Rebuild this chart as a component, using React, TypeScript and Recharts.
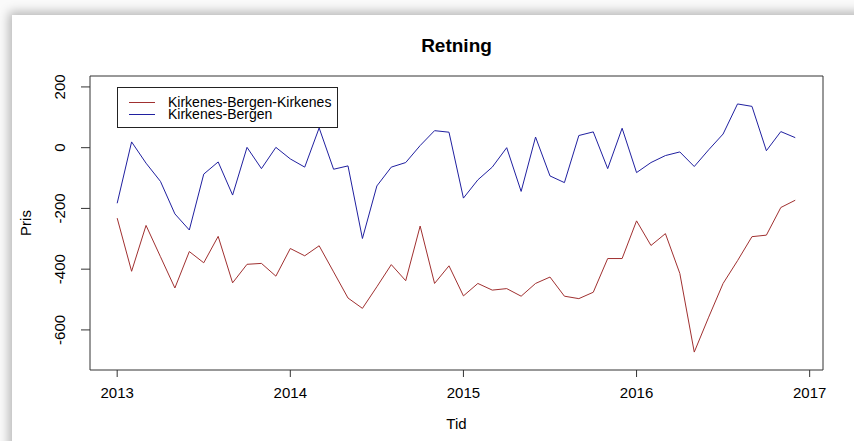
import { LineChart, Line, XAxis, YAxis, ReferenceArea, Legend, Label } from 'recharts'

const font = '"Liberation Sans", Arial, sans-serif'

// monthly series, jan 2013 - dec 2016
const startYear = 2013
const kirkenesBergenKirkenes = [
  -232, -407, -256, -359, -462, -342, -379, -292, -445, -384, -381, -423,
  -332, -356, -323, -409, -495, -529, -458, -385, -438, -258, -447, -389,
  -488, -447, -469, -464, -489, -447, -426, -489, -497, -476, -365, -365,
  -241, -322, -283, -414, -673, -558, -447, -372, -293, -288, -197, -173,
]
const kirkenesBergen = [
  -183, 19, -51, -111, -218, -271, -87, -47, -156, 1, -69, 1,
  -37, -64, 65, -71, -60, -299, -126, -64, -49, 7, 56, 51,
  -166, -106, -64, 0, -144, 35, -93, -115, 40, 52, -69, 64,
  -82, -49, -26, -14, -62, -7, 45, 144, 136, -10, 53, 33,
]
const seriesNames = ['Kirkenes-Bergen-Kirkenes', 'Kirkenes-Bergen']
const xTicks = [2013, 2014, 2015, 2016, 2017]
const yTicks = [-600, -400, -200, 0, 200]

const xDomain: [number, number] = [2012.843, 2017.077]
const yDomain: [number, number] = [-732, 236]

const data = kirkenesBergenKirkenes.map((v, i) => ({
  t: startYear + i / 12,
  kbk: v,
  kb: kirkenesBergen[i],
}))

const YTick = (props: any) => {
  const { x, y, payload } = props
  return (
    <text
      x={x}
      y={y}
      transform={`rotate(-90, ${x}, ${y})`}
      textAnchor="middle"
      fontSize={15}
      fontFamily={font}
      fill="#000"
    >
      {payload.value}
    </text>
  )
}

const PrisLabel = (p: any) => {
  const vb = p.viewBox
  const x = vb.x + 0.5
  const y = vb.y + vb.height / 2
  return (
    <text x={x} y={y} transform={`rotate(-90, ${x}, ${y})`} textAnchor="middle" fontSize={15} fontFamily={font} fill="#000">
      Pris
    </text>
  )
}

const TidLabel = (p: any) => {
  const vb = p.viewBox
  return (
    <text x={vb.x + vb.width / 2} y={vb.y + 58.5} textAnchor="middle" fontSize={15} fontFamily={font} fill="#000">
      Tid
    </text>
  )
}

// recharts sorts legend items, keep the plotting order instead
const renderLegend = (props: any) => {
  const items = seriesNames
    .map((n) => props.payload.find((e: any) => e.value === n))
    .filter(Boolean)
  return (
    <div
      style={{
        border: '1px solid #222',
        width: 221,
        height: 41,
        boxSizing: 'border-box',
        background: '#fff',
        paddingTop: 8,
        fontFamily: font,
        fontSize: 14,
        color: '#000',
      }}
    >
      {items.map((e: any) => (
        <div key={e.value} style={{ display: 'flex', alignItems: 'center', height: 12 }}>
          <div style={{ width: 26, height: 1, background: e.color, marginLeft: 11, marginRight: 13 }} />
          <span style={{ lineHeight: '12px', whiteSpace: 'nowrap' }}>{e.value}</span>
        </div>
      ))}
    </div>
  )
}

export default function App() {
  return (
    <div style={{ position: 'fixed', left: 0, top: 0, width: 854, height: 441, overflow: 'hidden', background: '#fafafa' }}>
      <div
        style={{
          position: 'absolute',
          left: 12,
          top: 15,
          width: 900,
          height: 500,
          background: '#fff',
          boxShadow: '-3px -3px 10px rgba(0,0,0,0.28)',
        }}
      />
      <div
        style={{
          position: 'absolute',
          left: 90,
          top: 35,
          width: 733,
          textAlign: 'center',
          fontFamily: font,
          fontWeight: 'bold',
          fontSize: 19,
          lineHeight: '22px',
          color: '#000',
        }}
      >
        Retning
      </div>
      <div style={{ position: 'absolute', left: 0, top: 0 }}>
        <LineChart width={854} height={441} data={data} margin={{ top: 76, right: 31, bottom: 0, left: 30 }}>
          <XAxis
            dataKey="t"
            type="number"
            domain={xDomain}
            ticks={xTicks}
            allowDataOverflow
            height={71}
            axisLine={false}
            tickSize={7}
            tickMargin={10}
            tickLine={{ stroke: '#333' }}
            tick={{ fontSize: 15, fontFamily: font, fill: '#000' }}
          >
            <Label content={TidLabel} />
          </XAxis>
          <YAxis
            type="number"
            domain={yDomain}
            ticks={yTicks}
            allowDataOverflow
            width={60}
            axisLine={false}
            tickSize={9}
            tickMargin={16}
            tickLine={{ stroke: '#333' }}
            tick={YTick}
          >
            <Label content={PrisLabel} />
          </YAxis>
          <ReferenceArea
            x1={xDomain[0]}
            x2={xDomain[1]}
            y1={yDomain[0]}
            y2={yDomain[1]}
            fill="none"
            stroke="#333"
            strokeWidth={1}
            ifOverflow="extendDomain"
          />
          <Legend
            layout="horizontal"
            verticalAlign="middle"
            align="center"
            content={renderLegend}
            wrapperStyle={{ left: 117, top: 87, width: 221 }}
          />
          <Line
            type="linear"
            dataKey="kbk"
            name={seriesNames[0]}
            stroke="#a03030"
            strokeWidth={1}
            dot={false}
            isAnimationActive={false}
          />
          <Line
            type="linear"
            dataKey="kb"
            name={seriesNames[1]}
            stroke="#2020a0"
            strokeWidth={1}
            dot={false}
            isAnimationActive={false}
          />
        </LineChart>
      </div>
    </div>
  )
}
